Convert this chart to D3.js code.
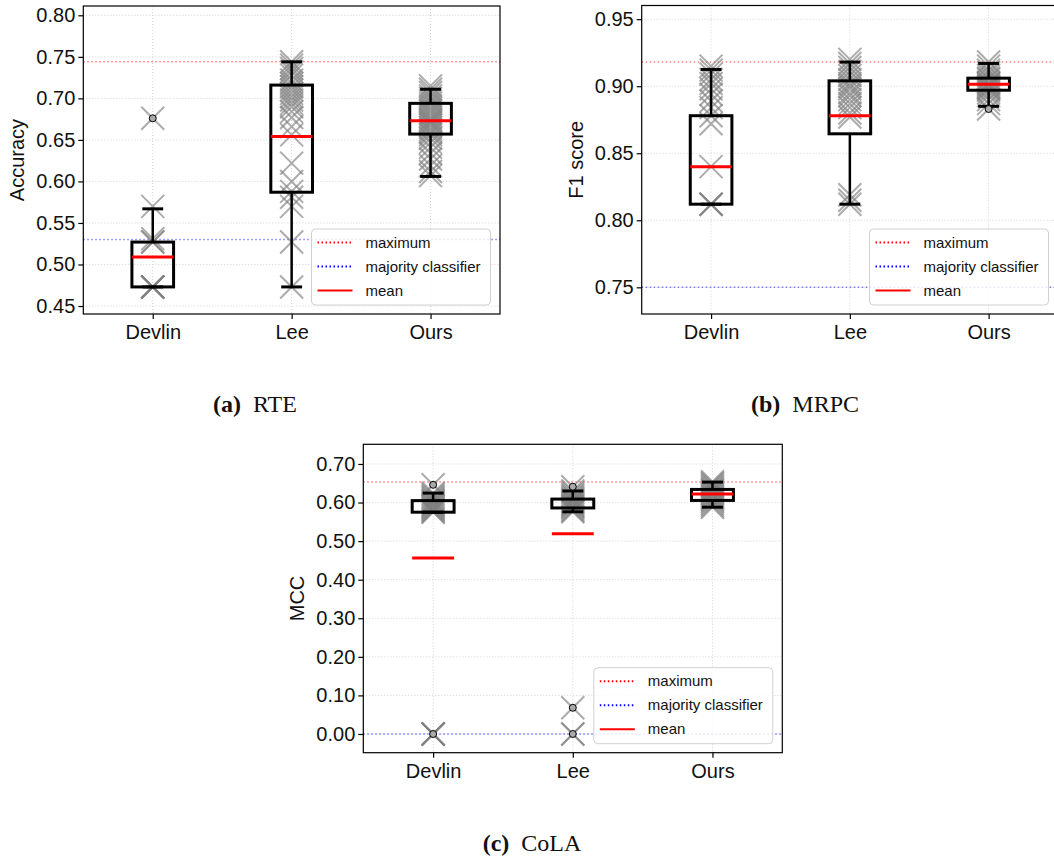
<!DOCTYPE html>
<html lang="en">
<head>
    <meta charset="UTF-8">
    <script src="https://cdnjs.cloudflare.com/ajax/libs/d3/7.8.5/d3.min.js"></script>
    <style>
        body { margin: 0; background: #fff; }
        text { font-family: "Liberation Sans", Arial, sans-serif; fill: #111; }
        .caption text, text.caption { font-family: "Liberation Serif", "DejaVu Serif", serif; }
    </style>
</head>
<body>
    <svg id="chart" width="1054" height="862"></svg>
    <script>
        const methods = ["Devlin", "Lee", "Ours"];
        const legendLabels = ["maximum", "majority classifier", "mean"];

        // (a) RTE
        const rteTicks = [0.45, 0.50, 0.55, 0.60, 0.65, 0.70, 0.75, 0.80];
        const rteQ1 = [0.473, 0.587, 0.657];
        const rteQ3 = [0.527, 0.716, 0.694];
        const rteLo = [0.473, 0.473, 0.606];
        const rteHi = [0.567, 0.744, 0.711];
        const rteMean = [0.509, 0.654, 0.673];
        const rteFliers = [[0.676], [], []];
        const rteMax = 0.744, rteMajority = 0.530;
        const rtePoints = [
            [0.473, 0.473, 0.473, 0.473, 0.473, 0.527, 0.527, 0.531, 0.570, 0.676],
            [0.744, 0.740, 0.736, 0.732, 0.728, 0.722, 0.718, 0.714, 0.710, 0.706, 0.702, 0.698,
             0.694, 0.690, 0.684, 0.677, 0.666, 0.656, 0.622, 0.600, 0.588, 0.581, 0.570, 0.527, 0.473],
            [0.715, 0.711, 0.707, 0.703, 0.700, 0.697, 0.694, 0.691, 0.688, 0.685, 0.682, 0.679, 0.676,
             0.674, 0.672, 0.670, 0.668, 0.665, 0.662, 0.659, 0.656, 0.652, 0.647, 0.641, 0.634, 0.627,
             0.619, 0.612, 0.607]
        ];

        // (b) MRPC
        const mrpcTicks = [0.75, 0.80, 0.85, 0.90, 0.95];
        const mrpcQ1 = [0.812, 0.8645, 0.897];
        const mrpcQ3 = [0.878, 0.904, 0.906];
        const mrpcLo = [0.812, 0.812, 0.885];
        const mrpcHi = [0.9125, 0.918, 0.917];
        const mrpcMean = [0.840, 0.878, 0.9015];
        const mrpcFliers = [[], [], [0.883]];
        const mrpcMax = 0.918, mrpcMajority = 0.750;
        const mrpcPoints = [
            [0.915, 0.912, 0.909, 0.905, 0.902, 0.898, 0.894, 0.889, 0.884, 0.878, 0.872, 0.840, 0.812, 0.812, 0.812],
            [0.920, 0.917, 0.914, 0.911, 0.908, 0.905, 0.902, 0.900, 0.898, 0.895, 0.893, 0.890, 0.887,
             0.884, 0.880, 0.877, 0.819, 0.815, 0.812],
            [0.918, 0.915, 0.912, 0.910, 0.908, 0.906, 0.905, 0.903, 0.902, 0.901, 0.900, 0.899, 0.898,
             0.897, 0.895, 0.893, 0.890, 0.887, 0.883]
        ];

        // (c) CoLA
        const colaTicks = [0.00, 0.10, 0.20, 0.30, 0.40, 0.50, 0.60, 0.70];
        const colaQ1 = [0.575, 0.586, 0.6055];
        const colaQ3 = [0.605, 0.609, 0.634];
        const colaLo = [0.575, 0.576, 0.588];
        const colaHi = [0.6245, 0.630, 0.653];
        const colaMean = [0.456, 0.519, 0.622];
        const colaFliers = [[0.646, 0.0], [0.641, 0.068, 0.0], []];
        const colaMax = 0.653, colaMajority = 0.0;
        const colaPoints = [
            [0.646, 0.624, 0.620, 0.615, 0.611, 0.607, 0.604, 0.601, 0.598, 0.595, 0.592, 0.589, 0.586,
             0.583, 0.580, 0.577, 0.575, 0.0, 0.0, 0.0, 0.0, 0.0],
            [0.641, 0.630, 0.625, 0.620, 0.616, 0.612, 0.608, 0.605, 0.602, 0.599, 0.596, 0.593, 0.590,
             0.587, 0.583, 0.579, 0.576, 0.068, 0.0, 0.0],
            [0.654, 0.650, 0.646, 0.642, 0.638, 0.634, 0.631, 0.628, 0.625, 0.622, 0.619, 0.616, 0.613,
             0.610, 0.606, 0.602, 0.597, 0.592, 0.588]
        ];

        const svg = d3.select("#chart");
        svg.append("rect").attr("width", 1054).attr("height", 862).attr("fill", "#fff");

        function panel(o) {
            const g = svg.append("g");
            const x = d3.scalePoint().domain(methods).range([o.left, o.right]).padding(0.5);
            const y = d3.scaleLinear().domain(o.domain).range([o.bottom, o.top]);
            const bw = x.step() * 0.3;

            // grid
            g.append("g").selectAll("line").data(o.ticks).join("line")
                .attr("x1", o.left).attr("x2", o.right)
                .attr("y1", d => y(d)).attr("y2", d => y(d))
                .attr("stroke", "#c8c8c8").attr("stroke-width", 0.8).attr("stroke-dasharray", "1,2");
            g.append("g").selectAll("line").data(methods).join("line")
                .attr("x1", d => x(d)).attr("x2", d => x(d))
                .attr("y1", o.top).attr("y2", o.bottom)
                .attr("stroke", "#c8c8c8").attr("stroke-width", 0.8).attr("stroke-dasharray", "1,2");

            // reference lines
            g.append("line").attr("x1", o.left).attr("x2", o.right)
                .attr("y1", y(o.max)).attr("y2", y(o.max))
                .attr("stroke", "red").attr("stroke-opacity", 0.5)
                .attr("stroke-width", 1.5).attr("stroke-dasharray", "1.5,2.5");
            g.append("line").attr("x1", o.left).attr("x2", o.right)
                .attr("y1", y(o.majority)).attr("y2", y(o.majority))
                .attr("stroke", "blue").attr("stroke-opacity", 0.5)
                .attr("stroke-width", 1.5).attr("stroke-dasharray", "1.5,2.5");

            // individual runs as crosses
            const s = 11.5;
            const pts = o.points.flatMap((arr, i) => arr.map(v => ({ m: methods[i], v })));
            g.append("g").selectAll("path").data(pts).join("path")
                .attr("d", d => {
                    const cx = x(d.m), cy = y(d.v);
                    return `M${cx - s},${cy - s}L${cx + s},${cy + s}M${cx - s},${cy + s}L${cx + s},${cy - s}`;
                })
                .attr("stroke", "#808080").attr("stroke-opacity", 0.65)
                .attr("stroke-width", 2).attr("fill", "none");

            // boxes
            const boxes = g.append("g").selectAll("g").data(methods).join("g");
            boxes.append("line")
                .attr("x1", d => x(d)).attr("x2", d => x(d))
                .attr("y1", (d, i) => y(o.hi[i])).attr("y2", (d, i) => y(o.q3[i]))
                .attr("stroke", "#000").attr("stroke-width", 2.5);
            boxes.append("line")
                .attr("x1", d => x(d)).attr("x2", d => x(d))
                .attr("y1", (d, i) => y(o.q1[i])).attr("y2", (d, i) => y(o.lo[i]))
                .attr("stroke", "#000").attr("stroke-width", 2.5);
            boxes.append("line")
                .attr("x1", d => x(d) - bw / 4).attr("x2", d => x(d) + bw / 4)
                .attr("y1", (d, i) => y(o.hi[i])).attr("y2", (d, i) => y(o.hi[i]))
                .attr("stroke", "#000").attr("stroke-width", 3);
            boxes.append("line")
                .attr("x1", d => x(d) - bw / 4).attr("x2", d => x(d) + bw / 4)
                .attr("y1", (d, i) => y(o.lo[i])).attr("y2", (d, i) => y(o.lo[i]))
                .attr("stroke", "#000").attr("stroke-width", 3);
            boxes.append("rect")
                .attr("x", d => x(d) - bw / 2).attr("width", bw)
                .attr("y", (d, i) => y(o.q3[i]))
                .attr("height", (d, i) => y(o.q1[i]) - y(o.q3[i]))
                .attr("fill", "none").attr("stroke", "#000").attr("stroke-width", 3);
            boxes.append("line")
                .attr("x1", d => x(d) - bw / 2).attr("x2", d => x(d) + bw / 2)
                .attr("y1", (d, i) => y(o.mean[i])).attr("y2", (d, i) => y(o.mean[i]))
                .attr("stroke", "red").attr("stroke-width", 3);

            // fliers
            const fl = o.fliers.flatMap((arr, i) => arr.map(v => ({ m: methods[i], v })));
            g.append("g").selectAll("circle").data(fl).join("circle")
                .attr("cx", d => x(d.m)).attr("cy", d => y(d.v)).attr("r", 3.5)
                .attr("fill", "#aaa").attr("stroke", "#000").attr("stroke-width", 1);

            // frame
            g.append("rect").attr("x", o.left).attr("y", o.top)
                .attr("width", o.right - o.left).attr("height", o.bottom - o.top)
                .attr("fill", "none").attr("stroke", "#000").attr("stroke-width", 1.2);

            // axes
            const ya = g.append("g").attr("transform", `translate(${o.left},0)`)
                .call(d3.axisLeft(y).tickValues(o.ticks).tickFormat(d3.format(".2f")).tickSize(5).tickPadding(3));
            const xa = g.append("g").attr("transform", `translate(0,${o.bottom})`)
                .call(d3.axisBottom(x).tickSize(5).tickPadding(6));
            [ya, xa].forEach(a => {
                a.select(".domain").remove();
                a.selectAll("line").attr("stroke", "#000").attr("stroke-width", 1.2);
                a.selectAll("text").attr("font-size", 20)
                    .attr("font-family", "Liberation Sans, Arial, sans-serif").attr("fill", "#111");
            });

            g.append("text")
                .attr("transform", `translate(${o.left - 66},${(o.top + o.bottom) / 2}) rotate(-90)`)
                .attr("text-anchor", "middle").attr("dy", "0.35em")
                .attr("font-size", 20).text(o.ylabel);

            // legend
            const lw = 179, lh = 76;
            const lx = o.right - 9.5 - lw, ly = o.bottom - 9 - lh;
            const lg = g.append("g").attr("transform", `translate(${lx},${ly})`);
            lg.append("rect").attr("width", lw).attr("height", lh).attr("rx", 4)
                .attr("fill", "#fff").attr("fill-opacity", 0.8)
                .attr("stroke", "#d0d0d0").attr("stroke-width", 1);
            const styles = [
                { c: "red", dash: "1.5,2.5", w: 2 },
                { c: "blue", dash: "1.5,2.5", w: 2 },
                { c: "red", dash: null, w: 2 }
            ];
            const items = lg.selectAll("g").data(legendLabels).join("g")
                .attr("transform", (d, i) => `translate(0,${13.5 + i * 24})`);
            items.append("line").attr("x1", 6).attr("x2", 41)
                .attr("stroke", (d, i) => styles[i].c)
                .attr("stroke-width", (d, i) => styles[i].w)
                .attr("stroke-dasharray", (d, i) => styles[i].dash);
            items.append("text").attr("x", 54).attr("dy", "0.35em")
                .attr("font-size", 15).text(d => d);

            // caption
            const cap = svg.append("text").attr("class", "caption")
                .attr("x", o.capX).attr("y", o.capY).attr("text-anchor", "middle")
                .attr("font-size", 24);
            cap.append("tspan").attr("font-weight", "bold").text(o.capTag);
            cap.append("tspan").text("\u2002" + o.capName);
        }

        panel({
            left: 83.3, right: 500, top: 6, bottom: 314, domain: [0.4404, 0.8112],
            ticks: rteTicks, q1: rteQ1, q3: rteQ3, lo: rteLo, hi: rteHi, mean: rteMean,
            fliers: rteFliers, points: rtePoints, max: rteMax, majority: rteMajority,
            ylabel: "Accuracy", capTag: "(a)", capName: "RTE", capX: 255, capY: 412
        });
        panel({
            left: 641.7, right: 1058, top: 5.5, bottom: 314, domain: [0.7301, 0.9602],
            ticks: mrpcTicks, q1: mrpcQ1, q3: mrpcQ3, lo: mrpcLo, hi: mrpcHi, mean: mrpcMean,
            fliers: mrpcFliers, points: mrpcPoints, max: mrpcMax, majority: mrpcMajority,
            ylabel: "F1 score", capTag: "(b)", capName: "MRPC", capX: 805, capY: 412
        });
        panel({
            left: 363.3, right: 782.3, top: 444.3, bottom: 752.7, domain: [-0.0485, 0.751],
            ticks: colaTicks, q1: colaQ1, q3: colaQ3, lo: colaLo, hi: colaHi, mean: colaMean,
            fliers: colaFliers, points: colaPoints, max: colaMax, majority: colaMajority,
            ylabel: "MCC", capTag: "(c)", capName: "CoLA", capX: 532, capY: 851
        });
    </script>
</body>
</html>
